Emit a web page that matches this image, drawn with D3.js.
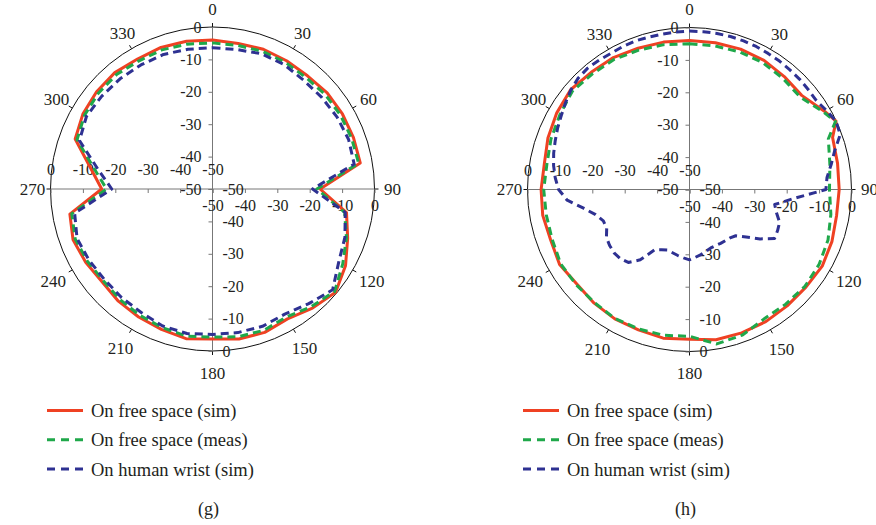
<!DOCTYPE html>
<html>
<head>
<meta charset="utf-8">
<script src="https://cdn.jsdelivr.net/npm/d3@7"></script>
<style>
  body { margin: 0; background: #fff; }
  svg { display: block; }
</style>
</head>
<body>
<svg id="chart" width="876" height="525"></svg>
<script>
// ---- data: radiation patterns in dB, angles in degrees ----
const angleLabels = [0, 30, 60, 90, 120, 150, 180, 210, 240, 270, 300, 330];
const dbTicks = [-50, -40, -30, -20, -10, 0];

// panel (g)
const anglesG = [0, 10, 20, 30, 40, 50, 60, 70, 80, 90, 100, 110, 120, 130, 140, 150, 160, 170,
                 180, 190, 200, 210, 220, 230, 240, 250, 260, 270, 280, 290, 300, 310, 320, 330, 340, 350];
const freeSimG  = [-4.0, -4.4, -4.1, -4.3, -4.4, -3.8, -3.7, -3.7, -3.7, -16.8, -8.0, -5.6, -2.6, -0.4, -2.0, -3.7, -2.9, -3.0,
                   -3.7, -3.1, -3.9, -4.4, -4.8, -5.5, -4.8, -4.2, -5.3, -15.8, -11.7, -4.9, -3.8, -3.3, -3.1, -3.7, -3.5, -3.7];
const freeMeasG = [-4.9, -5.0, -4.8, -4.9, -5.1, -4.6, -4.4, -4.3, -4.2, -17.8, -8.6, -6.0, -3.6, -0.8, -2.6, -4.4, -3.6, -3.7,
                   -4.3, -3.9, -4.5, -5.0, -5.5, -6.0, -5.4, -4.9, -5.9, -17.3, -12.8, -5.5, -4.4, -4.0, -3.9, -4.4, -4.3, -4.6];
const wristSimG = [-6.4, -6.3, -5.6, -5.7, -6.2, -6.0, -5.6, -5.3, -5.6, -19.1, -8.4, -6.5, -5.0, -1.6, -3.8, -5.4, -4.9, -5.0,
                   -5.1, -4.7, -5.0, -6.0, -6.3, -6.5, -6.0, -5.5, -6.8, -18.9, -14.0, -6.3, -5.1, -5.4, -5.6, -5.8, -5.8, -6.2];

// panel (h)
const anglesH = [0, 10, 20, 30, 40, 50, 60, 65, 70, 80, 90, 100, 110, 120, 130, 140, 150, 160, 170,
                 180, 190, 200, 210, 220, 230, 240, 250, 260, 270, 280, 290, 300, 310, 320, 330, 340, 350];
const freeSimH  = [-4.0, -4.0, -3.9, -4.0, -4.5, -4.8, -1.8, -0.1, -3.0, -3.6, -3.8, -3.9, -3.2, -2.7, -3.1, -3.1, -2.9, -2.9, -2.9,
                   -3.8, -3.4, -3.9, -3.9, -4.2, -4.6, -3.7, -4.4, -4.0, -4.2, -4.5, -3.5, -2.7, -2.1, -2.8, -3.0, -3.6, -3.8];
const freeMeasH = [-5.0, -5.0, -4.8, -4.8, -5.2, -5.5, -2.2, -0.3, -4.4, -6.0, -6.8, -5.7, -4.5, -3.8, -3.5, -3.8, -3.9, -2.2, -1.6,
                   -4.7, -4.3, -4.2, -4.0, -4.4, -4.3, -4.1, -4.9, -5.1, -5.0, -5.3, -4.5, -3.8, -2.8, -3.4, -3.6, -4.2, -4.6];
const anglesWristH = [0, 5, 10, 15, 20, 25, 30, 35, 40, 45, 50, 55, 60, 65, 70, 75, 80, 85, 90, 95, 100, 105, 110, 115,
                      120, 125, 130, 135, 140, 145, 150, 155, 160, 165, 170, 175, 180, 185, 190, 195, 200, 205, 210, 215,
                      220, 225, 230, 235, 240, 245, 250, 255, 260, 265, 270, 275, 280, 285, 290, 295, 300, 305, 310, 315,
                      320, 325, 330, 335, 340, 345, 350, 355];
const wristSimH = [-1.1, -1.1, -1.1, -1.1, -1.2, -1.3, -1.5, -1.6, -1.8, -1.9, -2.1, -2.2, -1.2, -0.1, -0.5, -3.6, -5.6, -7.4,
                   -7.9, -17.8, -23.3, -22.2, -20.4, -20.0, -19.7, -23.4, -27.2, -29.8, -30.5, -30.7, -30.8, -30.9, -30.8, -30.3,
                   -29.6, -29.0, -28.3, -28.8, -29.3, -29.8, -30.1, -29.5, -28.5, -23.5, -20.6, -19.8, -19.6, -19.9, -20.4, -21.8,
                   -21.7, -20.0, -16.8, -12.1, -9.6, -8.4, -7.4, -6.6, -5.9, -5.1, -4.3, -3.3, -2.2, -1.4, -1.1, -1.3,
                   -1.5, -1.3, -1.2, -1.3, -1.3, -1.2];

const seriesNames = ["On free space (sim)", "On free space (meas)", "On human wrist (sim)"];
const seriesColors = ["#ef4123", "#1fa84a", "#2e3192"];
const seriesDash = [null, "8,5", "8,5"];

// ---- layout ----
const R = 162;
const serif = "'Liberation Serif', 'Times New Roman', serif";
const textColor = "#231f20";
const panels = [
  { cx: 212.5, cy: 189, caption: "(g)", legendX: 47,
    series: [[anglesG, freeSimG], [anglesG, freeMeasG], [anglesG, wristSimG]] },
  { cx: 689.5, cy: 189.5, caption: "(h)", legendX: 523,
    series: [[anglesH, freeSimH], [anglesH, freeMeasH], [anglesWristH, wristSimH]] }
];

const svg = d3.select("#chart");
const rad = d => d * Math.PI / 180;
const r = d3.scaleLinear().domain([-50, 0]).range([0, R]);
const fmt = d => String(d);   // plain hyphen-minus, as printed on the axes

panels.forEach(p => {
  const g = svg.append("g");

  // outer circle (0 dB)
  g.append("circle").attr("cx", p.cx).attr("cy", p.cy).attr("r", R)
    .attr("fill", "none").attr("stroke", "#111").attr("stroke-width", 1);

  // small ticks on the circle every 30 degrees
  g.selectAll("line.ang").data(angleLabels).join("line")
    .attr("x1", a => p.cx + R * Math.sin(rad(a)))
    .attr("y1", a => p.cy - R * Math.cos(rad(a)))
    .attr("x2", a => p.cx + (R + 4) * Math.sin(rad(a)))
    .attr("y2", a => p.cy - (R + 4) * Math.cos(rad(a)))
    .attr("stroke", "#111").attr("stroke-width", 1);

  // angle labels
  g.selectAll("text.ang").data(angleLabels).join("text")
    .attr("x", a => p.cx + (Math.cos(rad(a)) < -0.1 ? 184 : 180) * Math.sin(rad(a)))
    .attr("y", a => p.cy - (Math.cos(rad(a)) < -0.1 ? 184 : 180) * Math.cos(rad(a)))
    .attr("dy", "0.35em")
    .attr("text-anchor", "middle")
    .attr("font-family", serif).attr("font-size", 17).attr("fill", textColor)
    .text(a => a);

  // four dB axes from the centre
  const up = d3.scaleLinear().domain([-50, 0]).range([p.cy, p.cy - R]);
  const down = d3.scaleLinear().domain([-50, 0]).range([p.cy, p.cy + R]);
  const left = d3.scaleLinear().domain([-50, 0]).range([p.cx, p.cx - R]);
  const right = d3.scaleLinear().domain([-50, 0]).range([p.cx, p.cx + R]);

  const styleAxis = sel => {
    sel.select(".domain").remove();
    sel.selectAll("line").attr("stroke", "#777");
    sel.selectAll("text").attr("font-family", serif).attr("font-size", 16).attr("fill", textColor);
  };

  g.append("line").attr("x1", p.cx).attr("x2", p.cx).attr("y1", p.cy - R).attr("y2", p.cy + R)
    .attr("stroke", "#777").attr("stroke-width", 1);
  g.append("line").attr("x1", p.cx - R).attr("x2", p.cx + R).attr("y1", p.cy).attr("y2", p.cy)
    .attr("stroke", "#777").attr("stroke-width", 1);

  g.append("g").attr("transform", `translate(${p.cx},0)`)
    .call(d3.axisLeft(up).tickValues(dbTicks).tickSize(4).tickPadding(7).tickFormat(fmt))
    .call(styleAxis);
  g.append("g").attr("transform", `translate(${p.cx},0)`)
    .call(d3.axisRight(down).tickValues(dbTicks).tickSize(-4).tickPadding(10).tickFormat(fmt))
    .call(styleAxis);
  g.append("g").attr("transform", `translate(0,${p.cy})`)
    .call(d3.axisTop(left).tickValues(dbTicks).tickSize(-4).tickPadding(14).tickFormat(fmt))
    .call(styleAxis);
  g.append("g").attr("transform", `translate(0,${p.cy})`)
    .call(d3.axisBottom(right).tickValues(dbTicks).tickSize(4).tickPadding(7).tickFormat(fmt))
    .call(styleAxis);

  // pattern curves
  const line = d3.lineRadial()
    .angle(d => rad(d[0]))
    .radius(d => r(d[1]))
    .curve(d3.curveLinearClosed);

  p.series.forEach(([angles, values], i) => {
    const pts = angles.map((a, k) => [a, values[k]]);
    g.append("path")
      .attr("transform", `translate(${p.cx},${p.cy})`)
      .attr("d", line(pts))
      .attr("fill", "none")
      .attr("stroke", seriesColors[i])
      .attr("stroke-width", 3)
      .attr("stroke-linejoin", "round")
      .attr("stroke-dasharray", seriesDash[i]);
  });

  // legend
  const lg = g.append("g");
  seriesNames.forEach((name, i) => {
    const y = 410.5 + i * 29.3;
    lg.append("line")
      .attr("x1", p.legendX).attr("x2", p.legendX + 36).attr("y1", y).attr("y2", y)
      .attr("stroke", seriesColors[i]).attr("stroke-width", 3)
      .attr("stroke-dasharray", seriesDash[i] ? "8,6" : null);
    lg.append("text")
      .attr("x", p.legendX + 44).attr("y", y).attr("dy", "0.35em")
      .attr("font-family", serif).attr("font-size", 18.5).attr("fill", textColor)
      .text(name);
  });

  // caption
  g.append("text")
    .attr("x", p.cx - 4).attr("y", 509).attr("dy", "0.35em")
    .attr("text-anchor", "middle")
    .attr("font-family", serif).attr("font-size", 18).attr("fill", textColor)
    .text(p.caption);
});
</script>
</body>
</html>
